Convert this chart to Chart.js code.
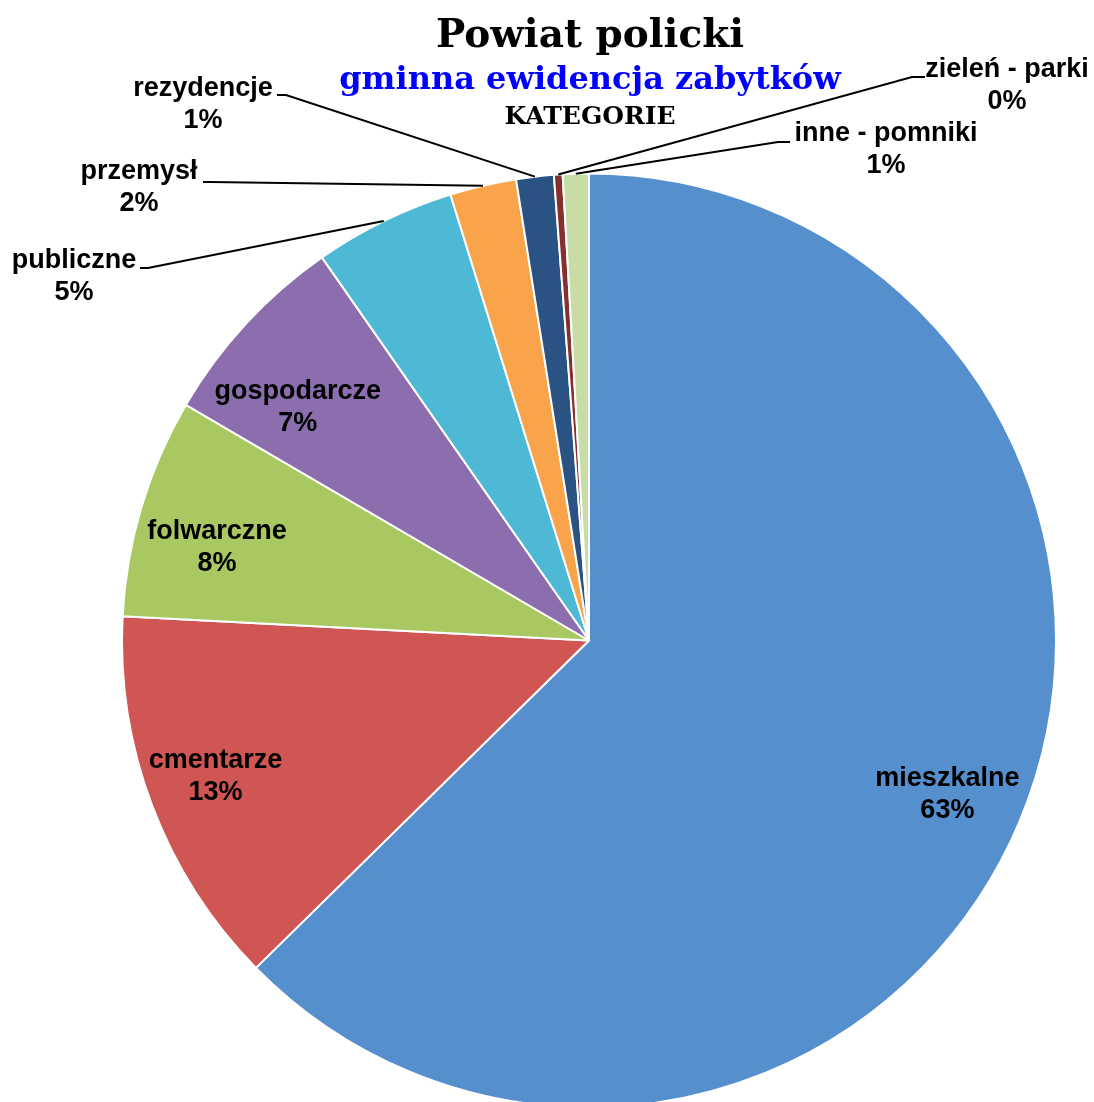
<!DOCTYPE html>
<html>
<head>
<meta charset="utf-8">
<script src="https://cdn.jsdelivr.net/npm/chart.js@4.4.1/dist/chart.umd.min.js"></script>
<style>
  html, body { margin: 0; padding: 0; background: #fff; overflow: hidden; }
  #wrap { width: 1094px; height: 1102px; position: relative; }
</style>
</head>
<body>
<div id="wrap"><canvas id="pieChart" width="1094" height="1102"></canvas></div>
<script>
// data (counts of entries per category)
const categories = ['mieszkalne', 'cmentarze', 'folwarczne', 'gospodarcze', 'publiczne', 'przemysł', 'rezydencje', 'zieleń - parki', 'inne - pomniki'];
const counts = [627, 132, 76, 69, 49, 23, 13, 3, 9];
const sliceColors = ['#558FCD', '#D05653', '#AAC862', '#8C6EAF', '#4DB9D5', '#F9A44B', '#2A5282', '#85302D', '#C8DCA5'];

const titleLines = ['Powiat policki', 'gminna ewidencja zabytków', 'KATEGORIE'];

// where each label goes: inside (polar, fraction of radius + angle nudge) or outside with a leader
const labelPlaces = [
  { inside: true, r: 0.834, da: 0.3 },
  { inside: true, r: 0.85, da: 1.0 },
  { inside: true, r: 0.822, da: -2.4 },
  { inside: true, r: 0.80, da: -3.9 },
  { inside: false, x: 74, y: 268, stub: [[140, 268], [148, 268]] },
  { inside: false, x: 139, y: 179, stub: [[203, 182], [210, 182]] },
  { inside: false, x: 203, y: 96, stub: [[277, 95], [286, 95]] },
  { inside: false, x: 1007, y: 77, stub: [[925, 77], [912, 77]] },
  { inside: false, x: 886, y: 141, stub: [[790, 142], [778, 142]] },
];

const total = counts.reduce((a, b) => a + b, 0);
const pct = (v) => Math.round((v / total) * 100) + '%';

const labelPlugin = {
  id: 'pieLabels',
  afterDatasetsDraw(chart) {
    const ctx = chart.ctx;
    const arcs = chart.getDatasetMeta(0).data;
    ctx.save();
    ctx.font = 'bold 27px "Liberation Sans", Arial, sans-serif';
    ctx.textAlign = 'center';
    ctx.textBaseline = 'alphabetic';
    ctx.fillStyle = '#000';
    arcs.forEach((arc, i) => {
      const { x, y, startAngle, endAngle, outerRadius } = arc.getProps(['x', 'y', 'startAngle', 'endAngle', 'outerRadius'], true);
      const mid = (startAngle + endAngle) / 2;
      const place = labelPlaces[i];
      const text = categories[i];
      const value = pct(counts[i]);
      if (place.inside) {
        const a = mid + (place.da * Math.PI) / 180;
        const cx = x + Math.cos(a) * outerRadius * place.r;
        const cy = y + Math.sin(a) * outerRadius * place.r;
        ctx.fillText(text, cx, cy - 7);
        ctx.fillText(value, cx, cy + 25);
      } else {
        // leader line: label stub -> edge of the slice
        const ex = x + Math.cos(mid) * outerRadius;
        const ey = y + Math.sin(mid) * outerRadius;
        ctx.beginPath();
        ctx.strokeStyle = '#000';
        ctx.lineWidth = 2;
        ctx.moveTo(place.stub[0][0], place.stub[0][1]);
        ctx.lineTo(place.stub[1][0], place.stub[1][1]);
        ctx.lineTo(ex, ey);
        ctx.stroke();
        ctx.fillText(text, place.x, place.y);
        ctx.fillText(value, place.x, place.y + 32);
      }
    });

    // titles
    const cx = 590;
    ctx.fillStyle = '#000';
    ctx.font = 'bold 39px "DejaVu Serif", serif';
    ctx.fillText(titleLines[0], cx, 47);
    ctx.fillStyle = '#0000FF';
    ctx.font = 'bold 32px "DejaVu Serif", serif';
    ctx.fillText(titleLines[1], cx, 89);
    ctx.fillStyle = '#000';
    ctx.font = 'bold 25px "DejaVu Serif", serif';
    ctx.fillText(titleLines[2], cx, 124);
    ctx.restore();
  },
};

const ctx = document.getElementById('pieChart').getContext('2d');

new Chart(ctx, {
  type: 'pie',
  data: {
    labels: categories,
    datasets: [
      {
        data: counts,
        backgroundColor: sliceColors,
        borderColor: '#fff',
        borderWidth: 2,
      },
    ],
  },
  options: {
    responsive: false,
    animation: false,
    radius: 467,
    layout: { padding: { left: 122, right: 38, top: 179, bottom: 0 } },
    plugins: {
      legend: { display: false },
      tooltip: { enabled: false },
      title: { display: false },
    },
  },
  plugins: [labelPlugin],
});
</script>
</body>
</html>
